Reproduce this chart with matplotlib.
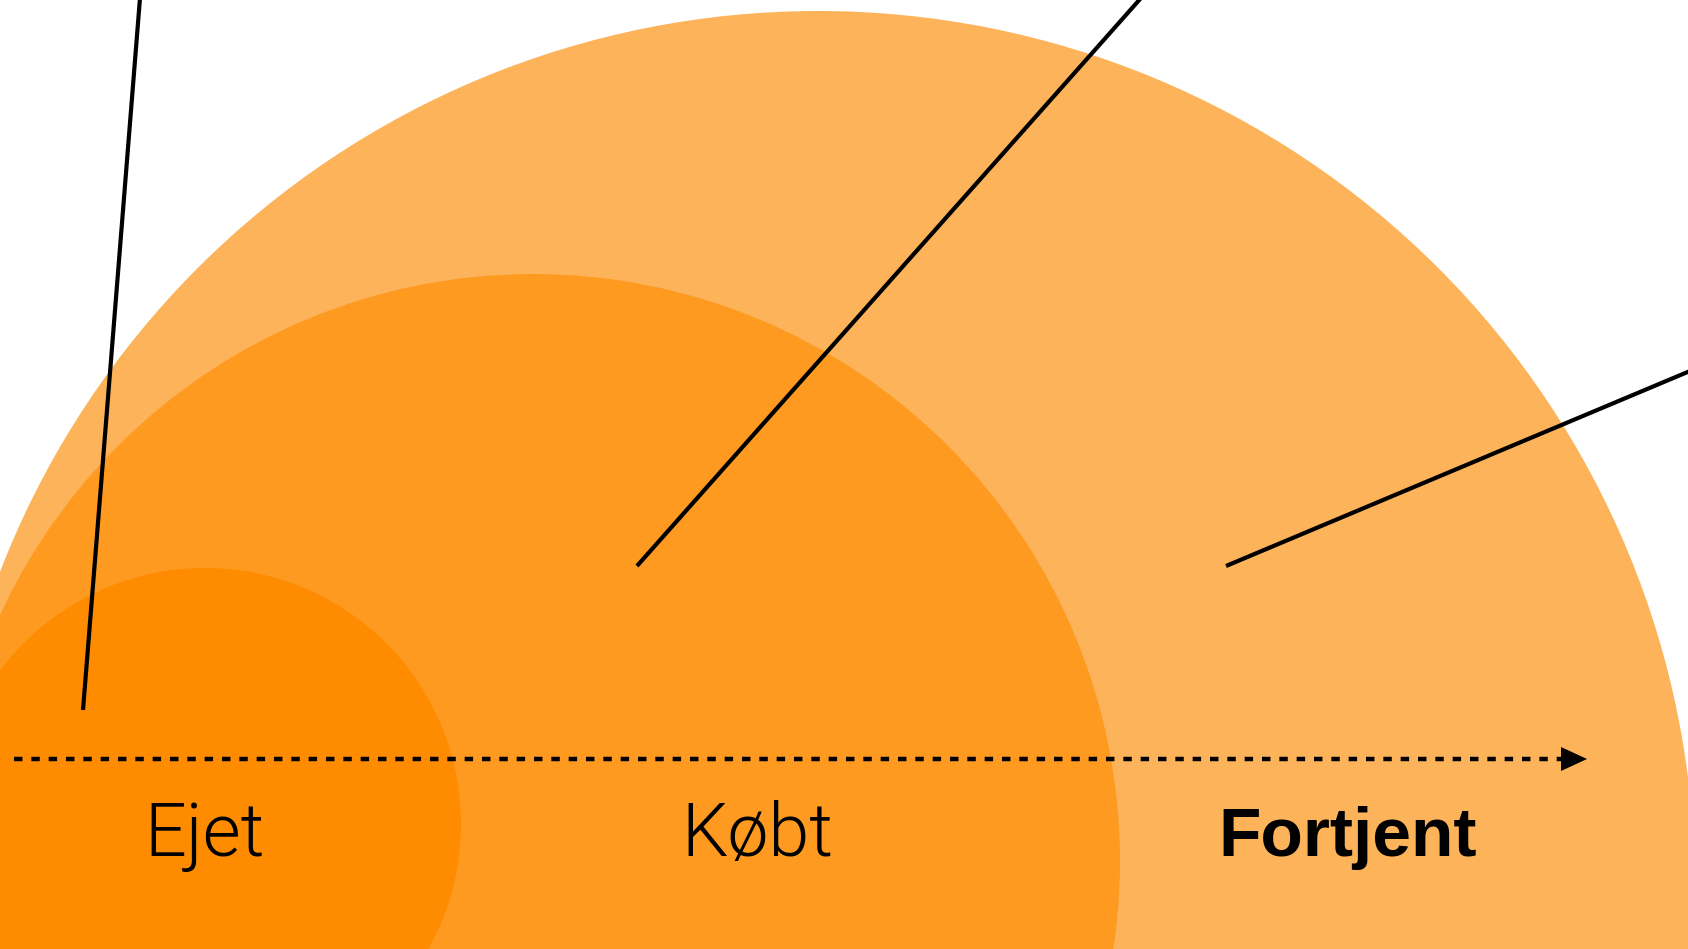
import matplotlib.pyplot as plt
from matplotlib.patches import Circle

# Diagram content (pixel coordinates of the 1688x949 canvas, y down)
labels = ["Ejet", "Købt", "Fortjent"]
label_x = [205, 757, 1348]
label_weight = [300, 300, "bold"]

circle_cx = [818, 533, 205]
circle_cy = [888, 861, 824]
circle_r = [877, 587, 256]
circle_colors = ["#FDB35A", "#FE9A1F", "#FF8C00"]

pointer_start = [(140, -2), (1141, -2), (1690, 371)]
pointer_end = [(83, 710), (637, 566), (1226, 566)]

W, H = 1688, 949
fig = plt.figure(figsize=(W / 100, H / 100), dpi=100)
ax = fig.add_axes([0, 0, 1, 1])
ax.set_xlim(0, W)
ax.set_ylim(H, 0)
ax.axis("off")

for cx, cy, r, c in zip(circle_cx, circle_cy, circle_r, circle_colors):
    ax.add_patch(Circle((cx, cy), r, color=c, lw=0, zorder=1))

for (x0, y0), (x1, y1) in zip(pointer_start, pointer_end):
    ax.plot([x0, x1], [y0, y1], color="black", lw=3.0, solid_capstyle="butt", zorder=3)

# dotted axis with arrow head
arrow_y = 759
ax.plot([14, 1562], [arrow_y, arrow_y], color="black", lw=3.2,
        linestyle=(0, (1.9, 2.0)), dash_capstyle="butt", zorder=3)
ax.fill([1561, 1587, 1561], [arrow_y - 12, arrow_y, arrow_y + 12], color="black", lw=0, zorder=3)

for txt, x, w in zip(labels, label_x, label_weight):
    if w == "bold":
        fam, size = ["Liberation Sans", "DejaVu Sans"], 50
    else:
        fam, size = ["Roboto", "DejaVu Sans"], 53
    ax.text(x, 856, txt, ha="center", va="baseline", fontsize=size,
            fontweight=w, family=fam, color="black", zorder=4)

fig.savefig("out.png", dpi=100)
